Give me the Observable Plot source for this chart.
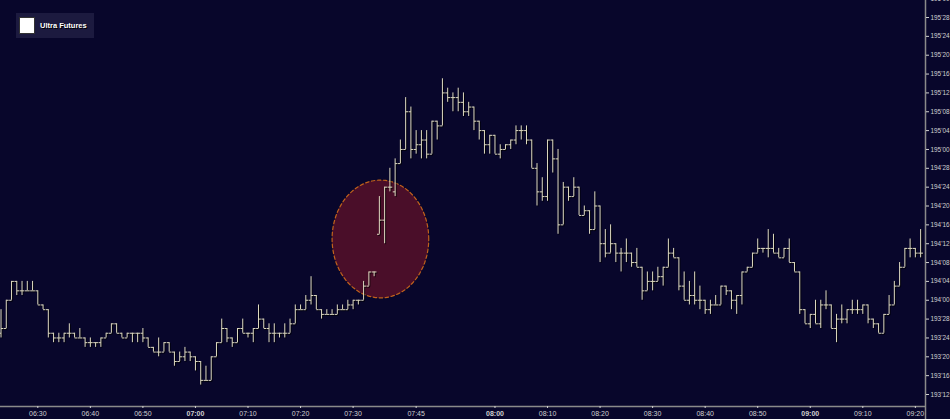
<!DOCTYPE html>
<html><head><meta charset="utf-8">
<script src="https://cdn.jsdelivr.net/npm/d3@7"></script>
<script src="https://cdn.jsdelivr.net/npm/@observablehq/plot@0.6"></script>
<style>
html,body{margin:0;padding:0;background:#08062b;}
#wrap{position:relative;width:950px;height:419px;overflow:hidden;background:#08062b;}
#wrap svg{display:block;}
#legend{position:absolute;left:16px;top:13px;width:78px;height:25px;background:#1c1a3f;display:flex;align-items:center;font:bold 7.5px "Liberation Sans",Arial,sans-serif;color:#fff;text-shadow:1px 1px 0 #000;}
#legend .sw{display:block;width:16px;height:17px;background:#fff;border:1px solid #333;box-sizing:border-box;margin-left:3px;margin-right:5px;}
</style></head>
<body><div id="wrap"><div id="legend"><span class="sw"></span>Ultra Futures</div></div>
<script>
// Prices in 32nds above 193'00 (e.g. 44 = 194'12), one-minute bars, left to right
const openV = [
  25,26,32,36,34,34,34,34,31,30,
  25,24,24,25,25,24,24,23,23,23,
  24,25,27,25,24,25,25,25,24,22,
  21,21,23,21,19,20,21,20,19,15,
  15,20,23,26,24,23,26,25,25,26,
  28,26,25,25,25,25,27,30,30,32,
  33,30,29,29,29,30,30,31,32,32,
  35,38,46,49,56,55,61,64,72,64,
  65,66,63,70,69,76,75,75,74,72,
  73,70,68,65,67,63,64,65,66,68,
  68,66,60,55,54,66,62,48,56,54,
  56,50,51,47,52,44,42,44,42,42,
  42,40,39,34,36,36,37,39,42,41,
  35,32,33,32,32,30,31,31,35,34,
  32,33,38,39,42,43,43,43,42,41,
  43,40,38,30,27,29,27,31,31,26,
  28,28,30,30,30,31,28,27,25,29,
  31,35,39,43,43,42];
const highV = [
  30,32,36,36,36,36,36,34,31,30,
  25,25,25,27,25,26,24,24,23,24,
  25,27,27,25,25,25,25,26,24,22,
  24,23,23,21,21,22,21,20,19,18,
  20,23,28,26,24,26,28,25,26,31,
  28,27,27,25,27,28,31,31,33,37,
  33,30,30,30,31,31,32,32,32,36,
  38,38,54,56,60,62,66,75,73,68,
  68,68,70,70,79,77,76,77,76,74,
  73,70,68,67,67,65,65,66,69,69,
  69,66,61,58,66,66,64,57,56,58,
  56,52,51,55,52,47,48,44,43,45,
  42,43,39,38,38,39,39,45,43,41,
  38,36,38,35,32,32,33,35,35,34,
  33,38,39,42,45,43,47,46,43,43,
  45,40,38,30,29,32,32,34,31,29,
  31,30,32,32,31,31,28,27,29,33,
  36,40,43,45,43,47];
const lowV = [
  24,26,32,33,33,34,34,31,30,24,
  23,23,23,24,24,24,22,22,22,22,
  24,25,25,24,24,23,23,23,22,21,
  20,21,21,18,19,19,19,17,14,15,
  15,20,23,23,22,23,25,24,23,26,
  26,23,23,24,24,25,27,30,30,31,
  30,28,29,29,29,30,30,30,31,32,
  35,37,46,44,55,54,61,64,62,63,
  62,62,63,66,69,74,72,72,71,71,
  68,66,63,63,63,62,64,64,65,66,
  65,60,52,53,53,59,46,48,53,54,
  50,50,46,47,40,41,42,40,38,40,
  39,39,32,34,34,36,35,39,41,34,
  32,31,31,30,29,29,31,31,33,30,
  29,31,38,39,42,42,41,42,41,41,
  40,38,29,27,26,27,26,30,26,23,
  27,27,29,29,29,27,26,25,25,29,
  31,35,39,41,41,41];
const closeV = [
  26,32,36,34,34,34,34,31,30,25,
  24,24,25,25,24,24,23,23,23,24,
  25,27,25,24,25,25,25,24,22,21,
  21,23,21,19,20,21,20,19,15,15,
  20,23,26,24,23,26,25,25,26,28,
  26,25,25,25,25,27,30,30,32,33,
  30,29,29,29,30,30,31,32,32,35,
  38,38,49,56,56,61,64,72,64,65,
  66,63,70,69,76,75,75,74,72,73,
  70,68,65,67,63,64,65,66,68,68,
  66,60,55,54,66,62,48,56,54,56,
  50,51,47,52,44,42,44,42,42,42,
  40,39,34,36,36,37,39,42,41,35,
  32,33,32,32,30,31,31,35,34,32,
  33,38,39,42,43,43,43,42,41,43,
  40,38,30,27,29,27,31,31,26,28,
  28,30,30,30,31,28,27,25,29,31,
  35,39,43,43,42,42];

// x-axis labels and the bar number each one sits under
const xTickLabels = ["06:30","06:40","06:50","07:00","07:10","07:20","07:30","07:45","08:00","08:10","08:20","08:30","08:40","08:50","09:00","09:10","09:20"];
const xTickBars   = [7,17,27,37,47,57,67,79,94,104,114,124,134,144,154,164,174];
const xBoldLabels = ["07:00","08:00","09:00"];
// y-axis labels (price in points'32nds)
const yTickLabels = ["193'12","193'16","193'20","193'24","193'28","194'00","194'04","194'08","194'12","194'16","194'20","194'24","194'28","195'00","195'04","195'08","195'12","195'16","195'20","195'24","195'28","196'00"];
// highlighted region (bar number, 32nds) and its half-extents
const highlight = {cx: 72.2, cy: 45.0, rx: 9.2, ry: 12.5};

const parse32 = s => { const [p, f] = s.split("'"); return (+p - 193) * 32 + (+f); };
const yTicks = yTickLabels.map(parse32);
const bars = openV.map((o, i) => ({i, o, h: highV[i], l: lowV[i], c: closeV[i]}));
const ell = d3.range(0, 361, 4).map(a => ({
  x: highlight.cx + highlight.rx * Math.cos(a * Math.PI / 180),
  y: highlight.cy + highlight.ry * Math.sin(a * Math.PI / 180)
}));

const xDomain = [-0.1, 175.93];
const yDomain = [9.454, 95.61];
const barColor = "#dedac0";
const axisColor = "#8a8a8a";
const labelFor = v => xTickLabels[xTickBars.indexOf(v)];
const hourBars = xTickBars.filter((b, k) => xBoldLabels.includes(xTickLabels[k]));
const otherBars = xTickBars.filter((b, k) => !xBoldLabels.includes(xTickLabels[k]));

const chart = Plot.plot({
  width: 950, height: 419,
  marginLeft: 0, marginRight: 25, marginTop: 0, marginBottom: 13,
  style: {background: "#08062b", color: "#d0d0d0", fontFamily: "'Liberation Sans', Arial, sans-serif"},
  x: {domain: xDomain, axis: null},
  y: {domain: yDomain, axis: null},
  marks: [
    Plot.line(ell, {x: "x", y: "y", fill: "#4a0e29", stroke: "#c0621c", strokeWidth: 1.2, strokeDasharray: "3.5,2.5"}),
    // shadows
    Plot.ruleX(bars, {x: "i", y1: "l", y2: "h", stroke: "#000", strokeOpacity: 0.75, dx: 1, dy: 1}),
    Plot.link(bars, {x1: d => d.i - 0.45, x2: "i", y1: "o", y2: "o", stroke: "#000", strokeOpacity: 0.75, dx: 1, dy: 1}),
    Plot.link(bars, {x1: "i", x2: d => d.i + 0.45, y1: "c", y2: "c", stroke: "#000", strokeOpacity: 0.75, dx: 1, dy: 1}),
    // OHLC bars
    Plot.ruleX(bars, {x: "i", y1: "l", y2: "h", stroke: barColor}),
    Plot.link(bars, {x1: d => d.i - 0.45, x2: "i", y1: "o", y2: "o", stroke: barColor}),
    Plot.link(bars, {x1: "i", x2: d => d.i + 0.45, y1: "c", y2: "c", stroke: barColor}),
    // axis lines
    Plot.ruleY([yDomain[0]], {stroke: axisColor, strokeWidth: 1.5}),
    Plot.ruleX([xDomain[1]], {stroke: axisColor, strokeWidth: 1.5, insetBottom: -13}),
    // axes
    Plot.axisY({anchor: "right", ticks: yTicks, tickFormat: v => yTickLabels[yTicks.indexOf(v)], tickSize: 3, tickPadding: 2, fontSize: 6.4}),
    Plot.axisX({anchor: "bottom", ticks: otherBars, tickFormat: labelFor, tickSize: 2, tickPadding: 3, fontSize: 7}),
    Plot.axisX({anchor: "bottom", ticks: hourBars, tickFormat: labelFor, tickSize: 2, tickPadding: 3, fontSize: 7, fontWeight: "bold"})
  ]
});
document.getElementById("wrap").prepend(chart);
</script>
</body></html>
